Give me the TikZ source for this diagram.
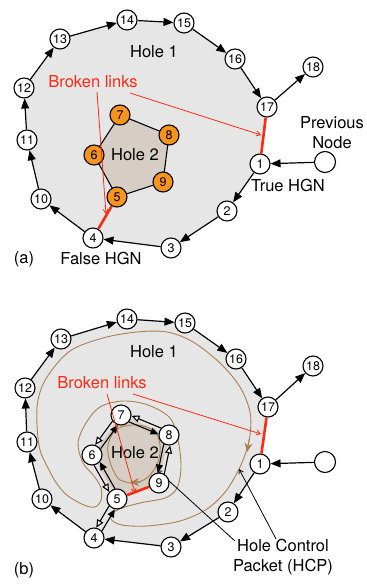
\documentclass[tikz,border=0pt]{standalone}
\usepackage{fontspec}
\setmainfont{TeX Gyre Heros}
\usetikzlibrary{arrows.meta,calc,backgrounds}
\definecolor{holeone}{HTML}{E6E6E6}
\definecolor{holetwo}{HTML}{D6CEC4}
\definecolor{nodeorange}{HTML}{F7941D}
\definecolor{linkred}{HTML}{FF2A14}
\definecolor{hcpbrown}{HTML}{A98050}
\newcommand\dbledge[2]{%
  \draw[fwdedge] ($(#1.center)!3.3pt!-90:(#2.center)$) -- ($(#2.center)!3.3pt!90:(#1.center)$);
  \draw[bwdedge] ($(#2.center)!3.3pt!-90:(#1.center)$) -- ($(#1.center)!3.3pt!90:(#2.center)$);
}
\begin{document}
\begin{tikzpicture}[x=1pt,y=-1pt,
  nd/.style={circle,draw,line width=1.1pt,fill=white,minimum size=20pt,inner sep=0pt,
    font=\fontsize{12.5}{12.5}\selectfont},
  onode/.style={nd,fill=nodeorange},
  bignd/.style={nd,minimum size=21pt},
  lbl/.style={font=\fontsize{16.5}{20}\selectfont,inner sep=0pt,align=center},
  redlbl/.style={lbl,text=linkred},
  edge/.style={line width=1.2pt,-{Triangle[length=10pt,width=8pt]}},
  plain/.style={line width=1.1pt},
  brk/.style={line width=2.6pt,linkred},
  fwdedge/.style={line width=1.1pt,shorten <=10pt,shorten >=10pt,-{Triangle[length=8pt,width=7pt]}},
  bwdedge/.style={line width=1.1pt,shorten <=10pt,shorten >=10pt,-{Triangle[open,length=8pt,width=7pt,fill=white]}},
  redarrow/.style={line width=0.8pt,linkred,-{Straight Barb[length=4pt,width=5pt]}},
  hcparrow/.style={line width=0.8pt,black,-{Straight Barb[length=4pt,width=5pt]}},
  hcppath/.style={line width=0.9pt,hcpbrown},
  hcptip/.style={hcpbrown,line width=0.9pt,-{Stealth[length=9pt,width=8pt]}}
]
\useasboundingbox (0,0) rectangle (366,585);

% ================= (a) =================
\node[nd] (a1) at (260,164) {1};
\node[nd] (a2) at (227,211) {2};
\node[nd] (a3) at (171,248) {3};
\node[nd] (a4) at (93,238) {4};
\node[nd] (a10) at (41,199) {10};
\node[nd] (a11) at (27,140) {11};
\node[nd] (a12) at (24,88) {12};
\node[nd] (a13) at (60,39) {13};
\node[nd] (a14) at (127,20) {14};
\node[nd] (a15) at (184,23) {15};
\node[nd] (a16) at (235,59) {16};
\node[nd] (a17) at (267,107) {17};
\node[nd] (a18) at (313,67) {18};
\node[bignd] (aprev) at (325,162) {};
\node[onode] (a5) at (117,197) {5};
\node[onode] (a6) at (94,155) {6};
\node[onode] (a7) at (120,115) {7};
\node[onode] (a8) at (169,135) {8};
\node[onode] (a9) at (163,182) {9};

\begin{scope}[on background layer]
  \fill[holeone] (a1.center) -- (a2.center) -- (a3.center) -- (a4.center) -- (a10.center) -- (a11.center)
    -- (a12.center) -- (a13.center) -- (a14.center) -- (a15.center) -- (a16.center) -- (a17.center) -- cycle;
  \fill[holetwo] (a7.center) -- (a8.center) -- (a9.center) -- (a5.center) -- (a6.center) -- cycle;
  \draw[plain] (a7.center) -- (a8.center) -- (a9.center) -- (a5.center) -- (a6.center) -- cycle;
\end{scope}

\draw[edge] (aprev) -- (a1);
\draw[edge] (a1) -- (a2);
\draw[edge] (a2) -- (a3);
\draw[edge] (a3) -- (a4);
\draw[edge] (a4) -- (a10);
\draw[edge] (a10) -- (a11);
\draw[edge] (a11) -- (a12);
\draw[edge] (a12) -- (a13);
\draw[edge] (a13) -- (a14);
\draw[edge] (a14) -- (a15);
\draw[edge] (a15) -- (a16);
\draw[edge] (a16) -- (a17);
\draw[edge] (a17) -- (a18);
\draw[brk] (a17) -- (a1);
\draw[brk] (a4) -- (a5);

\node[lbl] (ahole1) at (154,52) {Hole 1};
\node[lbl] (ahole2) at (135,155) {Hole 2};
\node[redlbl] (abroken) at (93,82) {Broken links};
\node[lbl] (aprevlbl) at (332,133) {Previous\\Node};
\node[lbl] (atrue) at (288,185) {True HGN};
\node[lbl] (afalse) at (101,258) {False HGN};
\node[lbl] (atag) at (24,259) {(a)};

\coordinate (ar1s) at (130,93);
\coordinate (ar1e) at (261,135);
\coordinate (ar2s) at (97,92);
\coordinate (ar2e) at (106,214);
\draw[redarrow] (ar1s) -- (ar1e);
\draw[redarrow] (ar2s) -- (ar2e);

% ================= (b) =================
\node[nd] (b1) at (260,464) {1};
\node[nd] (b2) at (228,512) {2};
\node[nd] (b3) at (171,547) {3};
\node[nd] (b4) at (94,538) {4};
\node[nd] (b10) at (42,499) {10};
\node[nd] (b11) at (27,442) {11};
\node[nd] (b12) at (25,388) {12};
\node[nd] (b13) at (61,339) {13};
\node[nd] (b14) at (127,319) {14};
\node[nd] (b15) at (185,323) {15};
\node[nd] (b16) at (236,359) {16};
\node[nd] (b17) at (268,407) {17};
\node[nd] (b18) at (313,366) {18};
\node[bignd] (bprev) at (325,462) {};
\node[nd] (b5) at (117,499) {5};
\node[nd] (b6) at (92,455) {6};
\node[nd] (b7) at (121,415) {7};
\node[nd] (b8) at (169,435) {8};
\node[nd] (b9) at (159,483) {9};

\coordinate (hcpA) at (239,469);
\coordinate (hcpB) at (157,470);
\node[lbl] (bhcp) at (283,557) {Hole Control\\Packet (HCP)};

\begin{scope}[on background layer]
  \fill[holeone] (b1.center) -- (b2.center) -- (b3.center) -- (b4.center) -- (b10.center) -- (b11.center)
    -- (b12.center) -- (b13.center) -- (b14.center) -- (b15.center) -- (b16.center) -- (b17.center) -- cycle;
  \fill[holetwo] (b7.center) -- (b8.center) -- (b9.center) -- (b5.center) -- (b6.center) -- cycle;
  % HCP path around both holes
  \draw[hcppath] plot[smooth cycle,tension=0.55] coordinates {
    (47,377) (70,351) (103,338) (137,332) (167,332) (193,342) (220,363) (240,387) (250,412)
    (250,435) (246,452) (239,469) (226,491) (207,509) (180,521) (147,526) (122,525) (111,519)
    (117,510) (140,503) (165,498) (177,488) (181,467) (178,440) (170,418) (148,405) (123,401)
    (100,407) (86,423) (78,443) (83,463) (94,476) (101,488) (101,500) (95,507) (84,505)
    (68,496) (57,484) (48,468) (40,450) (37,425) (38,400)};
  \draw[hcptip] (249.5,438) -- (247,452);
  % HCP path inside hole 2
  \draw[hcppath] plot[smooth cycle,tension=0.6] coordinates {
    (117,477) (110,462) (108,445) (117,429) (137,425) (154,431) (160,445) (158,462) (148,477) (134,483) (123,481)};
  \draw[hcptip] (141,482) -- (130,482.5);
  \draw[hcparrow] (bhcp.north) ++(-7,0) coordinate (hcpstartA) (hcpstartA) -- (hcpA);
  \draw[hcparrow] ($(bhcp.north west)+(2,2)$) coordinate (hcpstartB) -- (hcpB);
\end{scope}

\draw[edge] (bprev) -- (b1);
\draw[edge] (b1) -- (b2);
\draw[edge] (b2) -- (b3);
\draw[edge] (b3) -- (b4);
\draw[edge] (b4) -- (b10);
\draw[edge] (b10) -- (b11);
\draw[edge] (b11) -- (b12);
\draw[edge] (b12) -- (b13);
\draw[edge] (b13) -- (b14);
\draw[edge] (b14) -- (b15);
\draw[edge] (b15) -- (b16);
\draw[edge] (b16) -- (b17);
\draw[edge] (b17) -- (b18);
\dbledge{b4}{b5}
\dbledge{b5}{b6}
\dbledge{b6}{b7}
\dbledge{b7}{b8}
\dbledge{b8}{b9}
\draw[brk] (b17) -- (b1);
\draw[brk] (b5) -- (b9);

\node[lbl] (bhole1) at (154,352) {Hole 1};
\node[lbl] (bhole2) at (135,453) {Hole 2};
\node[redlbl] (bbroken) at (102,383) {Broken links};
\node[lbl] (btag) at (24,570) {(b)};

\coordinate (br1s) at (133,394);
\coordinate (br1e) at (261,434);
\coordinate (br2s) at (107,394);
\coordinate (br2e) at (135,493);
\draw[redarrow] (br1s) -- (br1e);
\draw[redarrow] (br2s) -- (br2e);
\end{tikzpicture}
\end{document}
